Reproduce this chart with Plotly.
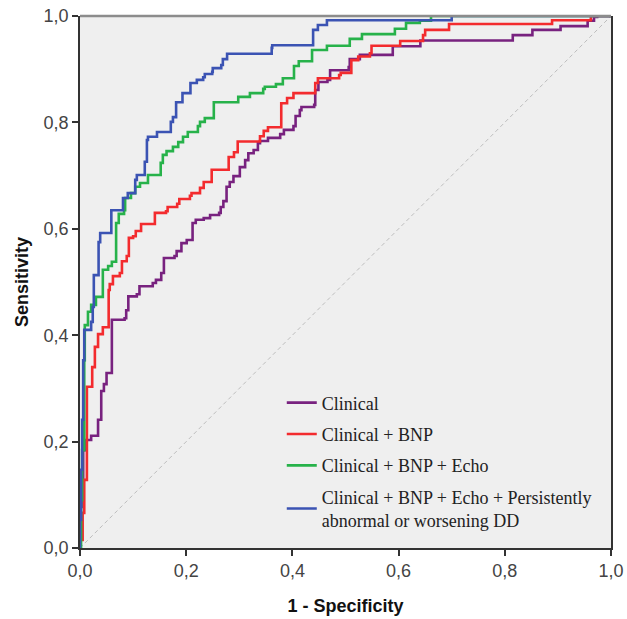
import plotly.graph_objects as go

# ROC step vertices: (1 - specificity, sensitivity); drawn with 'hv' steps
clin_fpr = [0, 0, 0.003, 0.006, 0.012, 0.021, 0.034, 0.040, 0.045, 0.050, 0.060, 0.084, 0.087, 0.091,
            0.107, 0.112, 0.137, 0.143, 0.153, 0.158, 0.178, 0.182, 0.191, 0.201, 0.212, 0.218, 0.233,
            0.245, 0.262, 0.265, 0.270, 0.276, 0.282, 0.289, 0.301, 0.311, 0.317, 0.327, 0.335, 0.339,
            0.354, 0.377, 0.384, 0.402, 0.406, 0.414, 0.417, 0.441, 0.443, 0.449, 0.466, 0.471, 0.506,
            0.508, 0.527, 0.589, 0.641, 0.815, 0.852, 0.905, 0.956, 0.968, 0.974, 1.0]
clin_tpr = [0, 0.077, 0.122, 0.184, 0.203, 0.211, 0.241, 0.295, 0.308, 0.329, 0.429, 0.432, 0.447, 0.473,
            0.477, 0.492, 0.498, 0.504, 0.517, 0.545, 0.549, 0.558, 0.573, 0.579, 0.611, 0.617, 0.620,
            0.626, 0.630, 0.641, 0.652, 0.679, 0.688, 0.699, 0.716, 0.729, 0.742, 0.748, 0.761, 0.765,
            0.771, 0.778, 0.786, 0.793, 0.812, 0.823, 0.829, 0.833, 0.861, 0.876, 0.880, 0.898, 0.904,
            0.919, 0.927, 0.943, 0.954, 0.964, 0.974, 0.981, 0.991, 0.998, 1.0, 1.0]

bnp_fpr = [0, 0, 0.005, 0.008, 0.013, 0.023, 0.028, 0.034, 0.043, 0.054, 0.056, 0.062, 0.075, 0.079,
           0.088, 0.092, 0.100, 0.105, 0.115, 0.141, 0.162, 0.165, 0.183, 0.187, 0.207, 0.210, 0.226,
           0.233, 0.248, 0.280, 0.290, 0.297, 0.339, 0.346, 0.354, 0.379, 0.379, 0.390, 0.402, 0.443,
           0.448, 0.488, 0.491, 0.511, 0.524, 0.546, 0.549, 0.603, 0.646, 0.650, 0.695, 0.889, 0.962, 1.0]
bnp_tpr = [0, 0.015, 0.066, 0.128, 0.303, 0.340, 0.378, 0.402, 0.415, 0.485, 0.496, 0.511, 0.517, 0.539,
           0.549, 0.583, 0.586, 0.596, 0.609, 0.630, 0.633, 0.641, 0.647, 0.656, 0.662, 0.667, 0.677,
           0.688, 0.711, 0.735, 0.744, 0.764, 0.774, 0.784, 0.791, 0.801, 0.836, 0.846, 0.855, 0.874,
           0.883, 0.889, 0.893, 0.917, 0.924, 0.930, 0.944, 0.953, 0.964, 0.974, 0.985, 0.992, 1.0, 1.0]

echo_fpr = [0, 0.002, 0.004, 0.008, 0.009, 0.015, 0.021, 0.030, 0.043, 0.053, 0.060, 0.068, 0.073, 0.083,
            0.085, 0.096, 0.104, 0.113, 0.128, 0.152, 0.156, 0.163, 0.175, 0.185, 0.194, 0.203, 0.222,
            0.226, 0.235, 0.252, 0.298, 0.320, 0.345, 0.348, 0.369, 0.382, 0.403, 0.412, 0.437, 0.465,
            0.508, 0.531, 0.593, 0.614, 0.640, 0.661, 1.0]
echo_tpr = [0, 0.090, 0.184, 0.353, 0.419, 0.444, 0.457, 0.472, 0.523, 0.530, 0.538, 0.611, 0.628, 0.635,
            0.658, 0.667, 0.679, 0.686, 0.701, 0.724, 0.739, 0.746, 0.754, 0.763, 0.773, 0.782, 0.793,
            0.801, 0.808, 0.838, 0.848, 0.855, 0.863, 0.867, 0.872, 0.883, 0.906, 0.915, 0.936, 0.944,
            0.957, 0.966, 0.976, 0.987, 0.991, 1.0, 1.0]

dd_fpr = [0, 0, 0.002, 0.004, 0.006, 0.008, 0.021, 0.024, 0.026, 0.035, 0.038, 0.059, 0.081, 0.090,
          0.104, 0.107, 0.122, 0.126, 0.128, 0.145, 0.171, 0.175, 0.181, 0.193, 0.208, 0.220, 0.232,
          0.235, 0.249, 0.250, 0.266, 0.269, 0.277, 0.361, 0.362, 0.439, 0.448, 0.465, 0.700, 1.0]
dd_tpr = [0, 0.053, 0.147, 0.241, 0.353, 0.410, 0.425, 0.453, 0.513, 0.575, 0.592, 0.635, 0.658, 0.667,
          0.692, 0.701, 0.726, 0.767, 0.773, 0.782, 0.801, 0.810, 0.838, 0.855, 0.874, 0.880, 0.885,
          0.891, 0.895, 0.902, 0.908, 0.919, 0.929, 0.940, 0.945, 0.974, 0.983, 0.992, 1.0, 1.0]

names = ["Clinical", "Clinical + BNP", "Clinical + BNP + Echo",
         "Clinical + BNP + Echo + Persistently<br>abnormal or worsening DD"]
colors = ["#78227f", "#f32b2e", "#27b24a", "#3b53b3"]
series = [(clin_fpr, clin_tpr), (bnp_fpr, bnp_tpr), (echo_fpr, echo_tpr), (dd_fpr, dd_tpr)]

fig = go.Figure()
fig.add_trace(go.Scatter(x=[0, 1], y=[0, 1], mode="lines", showlegend=False,
                         line=dict(color="#bdbdbd", width=1, dash="4px,3px"), hoverinfo="skip"))
for i, ((fx, ty), nm, c) in enumerate(zip(series, names, colors)):
    fig.add_trace(go.Scatter(x=fx, y=ty, mode="lines", name=nm, legendgroup=str(i),
                             line=dict(color=c, width=2.6, shape="hv")))

tickvals = [0, 0.2, 0.4, 0.6, 0.8, 1.0]
ticktext = ["0,0", "0,2", "0,4", "0,6", "0,8", "1,0"]
axis_common = dict(range=[0, 1], tickvals=tickvals, ticktext=ticktext, showgrid=False, zeroline=False,
                   showline=True, linecolor="#333333", linewidth=1.5, ticks="outside", ticklen=6,
                   tickcolor="#333333", tickwidth=1.5, automargin=False, ticklabeloverflow="allow",
                   tickfont=dict(family="Liberation Sans, Arial", size=18, color="#444444"))
fig.update_xaxes(**axis_common, mirror=False,
                 title=dict(text="<b>1 - Specificity</b>", font=dict(family="Liberation Sans, Arial", size=18, color="#111111"), standoff=19))
fig.update_yaxes(**axis_common, mirror=True,
                 title=dict(text="<b>Sensitivity</b>", font=dict(family="Liberation Sans, Arial", size=18, color="#111111"), standoff=10))

fig.add_shape(type="line", xref="paper", yref="paper", x0=0, x1=1, y0=1, y1=1,
              line=dict(color="#8c8c8c", width=2.5))

fig.update_layout(
    width=627, height=619,
    margin=dict(l=80, r=16, t=16, b=71),
    paper_bgcolor="white", plot_bgcolor="#efefef",
    legend=dict(x=0.38, y=0.3075, xanchor="left", yanchor="top", bgcolor="rgba(0,0,0,0)",
                font=dict(family="Liberation Serif, Times New Roman", size=18, color="#222222"),
                tracegroupgap=5, itemwidth=30),
    showlegend=True,
)

fig.write_html("out.html", config={"displayModeBar": False},
               post_script="document.body.style.margin='0px';document.body.style.overflow='hidden';")
